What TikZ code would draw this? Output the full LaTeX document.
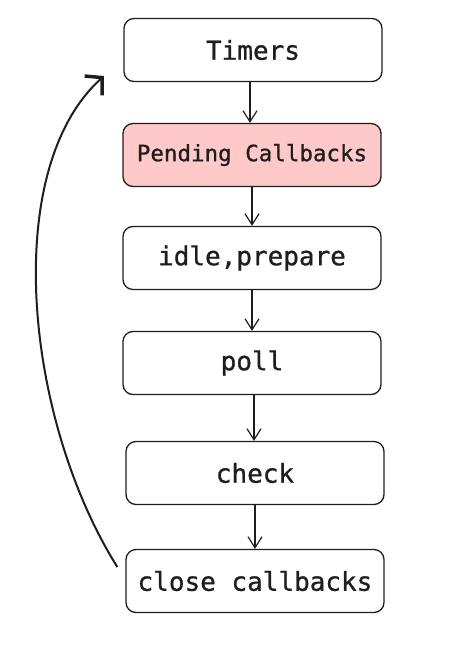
\documentclass[tikz,border=0pt]{standalone}
\usepackage{fontspec}
\newfontfamily\monofont[FakeBold=0.8]{DejaVu Sans Mono}
\usetikzlibrary{arrows.meta}

\definecolor{pendingred}{HTML}{FFC9C9}
\definecolor{inkblack}{HTML}{1E1E1E}

\tikzset{
    phase/.style={draw=inkblack, line width=1.3pt, rounded corners=10pt,
        minimum width=258pt, minimum height=63pt, inner sep=0pt,
        font=\monofont\fontsize{26}{30}\selectfont, text=inkblack},
    flow/.style={draw=inkblack, line width=1.2pt,
        -{Straight Barb[length=11pt,width=14pt,line width=1.2pt]}},
    loopback/.style={draw=inkblack, line width=2pt,
        -{Straight Barb[length=12pt,width=26pt,line width=3.5pt]}}
}

\begin{document}
\begin{tikzpicture}[x=1pt, y=-1pt]
    \useasboundingbox (0,0) rectangle (473,646);

    \node[phase] (timers) at (253,50) {Timers};
    \node[phase, fill=pendingred, font=\monofont\fontsize{22.5}{26}\selectfont] (pending) at (252,155) {Pending Callbacks};
    \node[phase] (idle) at (252,258) {idle,prepare};
    \node[phase] (poll) at (252,363) {poll};
    \node[phase] (check) at (255,473) {check};
    \node[phase] (close) at (255,581) {close callbacks};

    \draw[flow] ([xshift=-3pt]timers.south) -- ([xshift=-3pt]timers.south |- pending.north);
    \draw[flow] (pending.south) -- (pending.south |- idle.north);
    \draw[flow] (idle.south) -- (idle.south |- poll.north);
    \draw[flow] ([xshift=2pt]poll.south) -- ([xshift=2pt]poll.south |- check.north);
    \draw[flow] (check.south) -- (check.south |- close.north);

    \coordinate (looptip) at (104,76);
    \draw[loopback] ([xshift=-8pt,yshift=14pt]close.west) .. controls (25,420) and (0,170) .. (looptip);
\end{tikzpicture}
\end{document}
